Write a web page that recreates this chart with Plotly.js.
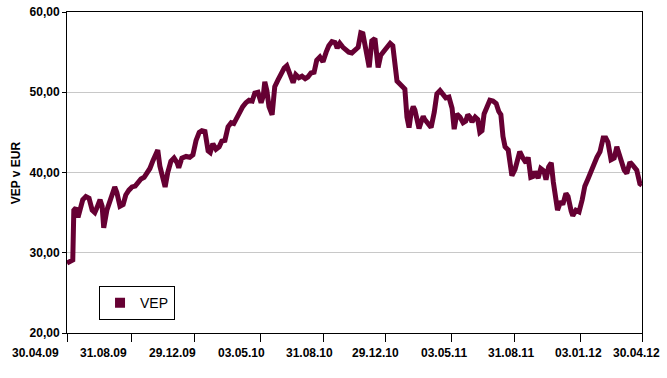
<!DOCTYPE html>
<html>
<head>
<meta charset="utf-8">
<script src="https://cdn.plot.ly/plotly-3.0.1.min.js"></script>
<style>
  html, body { margin: 0; padding: 0; background: #fff; }
  #chart { width: 667px; height: 378px; }
</style>
</head>
<body>
<div id="chart"></div>
<script>
// ---- data ----
const dates = [
  '2009-04-30','2009-05-06','2009-05-11','2009-05-13','2009-05-17','2009-05-21','2009-05-25','2009-05-30',
  '2009-06-05','2009-06-11','2009-06-17','2009-06-22','2009-06-26','2009-07-02','2009-07-06','2009-07-09',
  '2009-07-15','2009-07-21','2009-07-25','2009-07-30','2009-08-03','2009-08-09','2009-08-15','2009-08-20',
  '2009-08-26','2009-09-01','2009-09-07','2009-09-12','2009-09-18','2009-09-24','2009-09-29','2009-10-05',
  '2009-10-11','2009-10-17','2009-10-20','2009-10-24','2009-10-30','2009-11-03','2009-11-08','2009-11-14',
  '2009-11-20','2009-11-26','2009-11-29','2009-12-05','2009-12-13','2009-12-20','2009-12-26','2010-01-01',
  '2010-01-07','2010-01-12','2010-01-18','2010-01-24','2010-01-28','2010-02-02','2010-02-08','2010-02-14',
  '2010-02-19','2010-02-25','2010-03-03','2010-03-09','2010-03-14','2010-03-20','2010-03-26','2010-03-31',
  '2010-04-06','2010-04-12','2010-04-18','2010-04-23','2010-04-29','2010-05-05','2010-05-09','2010-05-12',
  '2010-05-16','2010-05-20','2010-05-26','2010-05-31','2010-06-06','2010-06-12','2010-06-18','2010-06-23',
  '2010-06-29','2010-07-05','2010-07-10','2010-07-16','2010-07-22','2010-07-28','2010-08-02','2010-08-08',
  '2010-08-14','2010-08-19','2010-08-25','2010-08-31','2010-09-06','2010-09-11','2010-09-17','2010-09-23',
  '2010-09-27','2010-10-02','2010-10-08','2010-10-14','2010-10-19','2010-10-25','2010-10-31','2010-11-06',
  '2010-11-11','2010-11-15','2010-11-19','2010-11-23','2010-11-27','2010-12-02','2010-12-08','2010-12-14',
  '2010-12-19','2010-12-25','2010-12-31','2011-01-06','2011-01-11','2011-01-15','2011-01-19','2011-01-25',
  '2011-01-30','2011-02-03','2011-02-07','2011-02-11','2011-02-15','2011-02-19','2011-02-22','2011-02-26',
  '2011-03-02','2011-03-06','2011-03-10','2011-03-13','2011-03-19','2011-03-25','2011-03-31','2011-04-05',
  '2011-04-11','2011-04-17','2011-04-22','2011-04-28','2011-05-04','2011-05-08','2011-05-13','2011-05-19',
  '2011-05-25','2011-05-30','2011-06-03','2011-06-07','2011-06-11','2011-06-17','2011-06-22','2011-06-26',
  '2011-06-30','2011-07-04','2011-07-09','2011-07-15','2011-07-21','2011-07-27','2011-08-01','2011-08-05',
  '2011-08-09','2011-08-13','2011-08-19','2011-08-22','2011-08-26','2011-09-01','2011-09-07','2011-09-10',
  '2011-09-16','2011-09-22','2011-09-26','2011-10-01','2011-10-05','2011-10-09','2011-10-15','2011-10-20',
  '2011-10-26','2011-10-30','2011-11-04','2011-11-09','2011-11-13','2011-11-17','2011-11-21','2011-11-27',
  '2011-12-01','2011-12-07','2011-12-11','2011-12-17','2011-12-20','2011-12-26','2012-01-01','2012-01-07',
  '2012-01-12','2012-01-18','2012-01-24','2012-01-29','2012-02-04','2012-02-10','2012-02-16','2012-02-21',
  '2012-02-25','2012-03-02','2012-03-08','2012-03-13','2012-03-17','2012-03-21','2012-03-27','2012-04-01',
  '2012-04-07','2012-04-11','2012-04-17','2012-04-20','2012-04-26','2012-04-30'
];
const vep = [
  28.7,29.0,29.1,35.3,35.6,34.4,35.5,36.6,
  37.0,36.8,35.3,35.0,35.6,36.6,35.8,33.1,
  35.3,36.3,37.0,38.2,37.5,35.8,36.0,37.2,
  37.8,38.2,38.3,38.8,39.2,39.4,39.9,40.5,
  41.5,42.6,42.8,40.8,39.0,38.2,40.0,41.4,
  41.8,41.2,40.6,41.8,42.0,41.9,42.2,44.0,
  45.0,45.2,45.1,42.7,42.5,43.6,42.9,43.2,
  43.9,44.0,45.7,46.2,46.1,46.9,47.8,48.2,
  48.7,49.0,48.9,49.9,50.0,48.7,49.5,51.3,
  50.2,48.2,47.2,50.7,51.5,52.3,53.0,53.3,
  52.4,51.2,52.2,51.8,52.0,51.7,51.9,52.4,
  52.5,54.0,54.4,53.8,55.0,55.8,56.3,56.2,
  55.5,56.1,55.6,55.3,55.0,54.9,55.2,55.6,
  57.4,57.3,55.9,54.4,53.1,56.4,56.7,53.1,
  54.6,55.1,55.7,56.1,55.8,54.0,51.4,51.0,
  50.7,50.4,46.9,45.6,47.5,48.2,47.8,46.5,
  45.5,46.3,47.0,46.6,46.0,45.6,47.5,49.8,
  50.2,49.7,49.3,49.4,48.0,45.4,47.3,46.9,
  46.2,46.4,47.2,46.9,46.3,46.9,46.6,45.0,
  45.2,47.3,48.2,49.0,48.9,48.6,47.6,47.2,
  44.5,43.2,42.8,41.0,39.6,40.4,42.0,42.6,
  41.8,41.2,41.9,39.4,39.5,40.1,39.3,40.5,
  40.2,39.1,40.7,41.2,38.8,36.5,35.3,36.4,
  36.0,37.4,37.0,35.2,34.6,35.3,35.1,36.6,
  38.3,39.2,40.3,41.0,41.9,42.6,44.3,44.3,
  43.8,41.6,41.8,43.2,42.4,41.6,40.3,39.9,
  41.3,41.0,40.6,40.3,38.6,38.4
];
const tickDates = ['2009-04-30','2009-08-31','2009-12-29','2010-05-03','2010-08-31',
                   '2010-12-29','2011-05-03','2011-08-31','2012-01-03','2012-04-30'];
const tickLabels = ['30.04.09','31.08.09','29.12.09','03.05.10','31.08.10',
                    '29.12.10','03.05.11','31.08.11','03.01.12','30.04.12'];
const seriesName = 'VEP';
const yTitle = 'VEP v EUR';

// ---- layout constants (positions of the category labels, paper units) ----
const labelX = [-0.054, 0.064, 0.183, 0.303, 0.421, 0.537, 0.656, 0.772, 0.890, 0.990];

const lineColor = '#660033';
const fontFam = 'Liberation Sans, Arial, sans-serif';

const traces = [
  { x: dates, y: vep, type: 'scatter', mode: 'lines', showlegend: false,
    line: { color: lineColor, width: 5 }, hoverinfo: 'skip' },
  { x: [null], y: [null], type: 'scatter', mode: 'markers', name: seriesName,
    marker: { symbol: 'square', size: 10, color: lineColor } }
];

const annotations = tickLabels.map((t, i) => ({
  text: t, xref: 'paper', yref: 'paper', x: labelX[i], y: -0.062,
  xanchor: 'center', yanchor: 'middle', showarrow: false,
  font: { family: fontFam, size: 12, weight: 700, color: '#000' }
}));
annotations.push({
  text: yTitle, xref: 'paper', yref: 'paper', x: -0.089, y: 0.5,
  textangle: -90, xanchor: 'center', yanchor: 'middle', showarrow: false,
  font: { family: fontFam, size: 12, weight: 700, color: '#000' }
});

const layout = {
  width: 667, height: 378,
  margin: { l: 67, r: 25, t: 12, b: 45 },
  paper_bgcolor: '#fff', plot_bgcolor: '#fff',
  separators: ',.',
  font: { family: fontFam, color: '#000' },
  xaxis: {
    type: 'date', range: ['2009-04-30', '2012-04-30'],
    tickmode: 'array', tickvals: tickDates, showticklabels: false,
    ticks: 'outside', ticklen: 8, tickcolor: '#000', tickwidth: 1,
    showline: true, linecolor: '#000', linewidth: 1, mirror: true,
    showgrid: false, zeroline: false, fixedrange: true
  },
  yaxis: {
    range: [20, 60], dtick: 10, tick0: 20, tickformat: '.2f',
    ticks: 'outside', ticklen: 4, tickcolor: '#000',
    showline: true, linecolor: '#000', linewidth: 1, mirror: true,
    showgrid: true, gridcolor: '#c8c8c8', gridwidth: 1, zeroline: false,
    tickfont: { family: fontFam, size: 12, weight: 700, color: '#000' },
    fixedrange: true
  },
  legend: {
    x: 0.0557, y: 0.146, xanchor: 'left', yanchor: 'top',
    bordercolor: '#000', borderwidth: 1, bgcolor: '#fff',
    font: { family: fontFam, size: 14, color: '#000' }
  },
  showlegend: true,
  annotations: annotations
};

Plotly.newPlot('chart', traces, layout, { displayModeBar: false, staticPlot: true });
</script>
</body>
</html>
